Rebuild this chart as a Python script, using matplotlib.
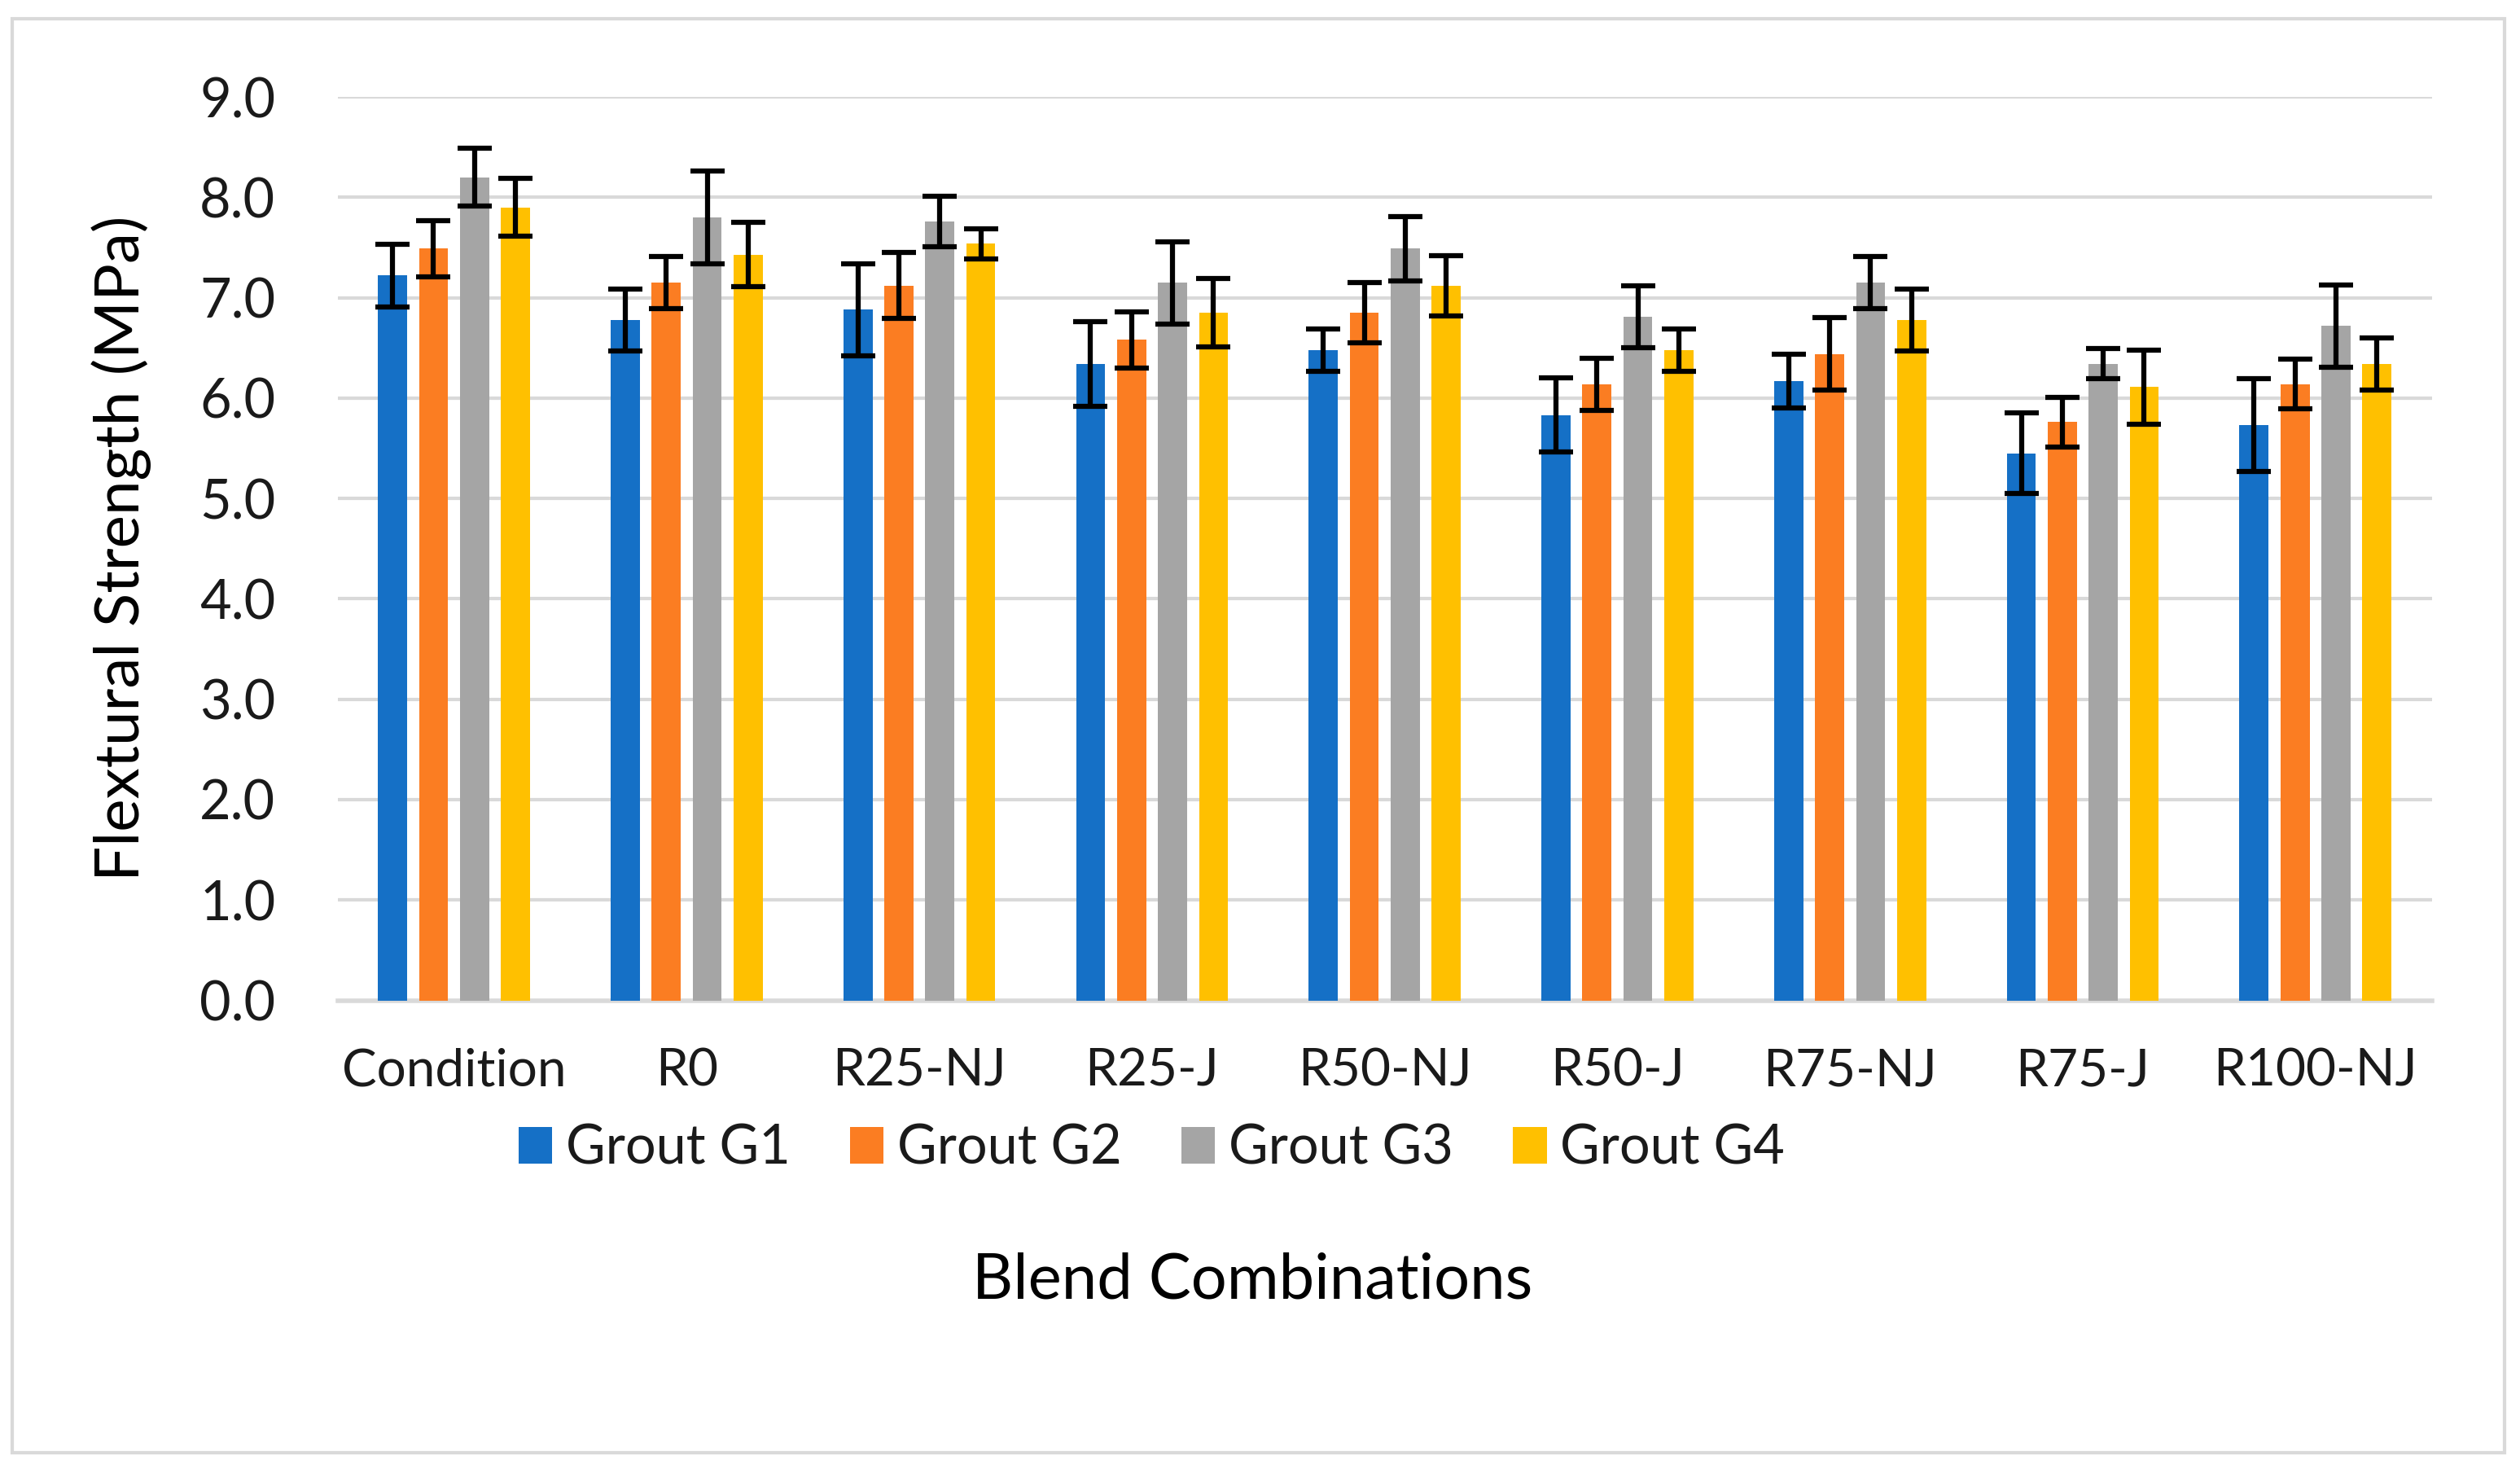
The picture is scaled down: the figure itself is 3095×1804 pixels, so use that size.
import numpy as np
import matplotlib
matplotlib.use("Agg")
import matplotlib.pyplot as plt
from matplotlib.patches import Rectangle

categories = ["Condition", "R0", "R25-NJ", "R25-J", "R50-NJ", "R50-J", "R75-NJ", "R75-J", "R100-NJ"]
series_names = ["Grout G1", "Grout G2", "Grout G3", "Grout G4"]

g1 = [7.22, 6.78, 6.88, 6.34, 6.48, 5.83, 6.17, 5.45, 5.73]
g2 = [7.49, 7.15, 7.12, 6.58, 6.85, 6.14, 6.44, 5.76, 6.14]
g3 = [8.20, 7.80, 7.76, 7.15, 7.49, 6.81, 7.15, 6.34, 6.72]
g4 = [7.90, 7.43, 7.54, 6.85, 7.12, 6.48, 6.78, 6.11, 6.34]

g1_err = [0.31, 0.31, 0.46, 0.42, 0.21, 0.37, 0.27, 0.40, 0.46]
g2_err = [0.28, 0.26, 0.33, 0.28, 0.30, 0.26, 0.36, 0.25, 0.25]
g3_err = [0.29, 0.46, 0.25, 0.41, 0.32, 0.31, 0.26, 0.15, 0.41]
g4_err = [0.29, 0.32, 0.15, 0.34, 0.30, 0.21, 0.31, 0.37, 0.26]

colors = ["#1570C6", "#FB7D22", "#A5A5A5", "#FFC000"]

plt.rcParams["font.family"] = ["Lato", "DejaVu Sans"]

fig = plt.figure(figsize=(30.95, 18.04), dpi=100)
ax = fig.add_axes([0.134, 0.319, 0.831, 0.615])

x = np.arange(len(categories))
step = 0.176
width = 0.125
values = [g1, g2, g3, g4]
errors = [g1_err, g2_err, g3_err, g4_err]

for i, (vals, errs) in enumerate(zip(values, errors)):
    ax.bar(x + (i - 1.5) * step, vals, width, color=colors[i], label=series_names[i],
           yerr=errs, error_kw=dict(ecolor="black", elinewidth=4.5, capsize=15, capthick=4.5),
           zorder=3)

ax.set_ylim(0, 9)
ax.set_xlim(-0.5, len(categories) - 0.5)
ax.set_yticks(np.arange(0, 9.5, 1.0))
ax.set_yticklabels([f"{v:.1f}" for v in np.arange(0, 9.5, 1.0)])
ax.set_xticks(x)
ax.set_xticklabels(categories)
ax.tick_params(axis="both", length=0, colors="#1a1a1a")
ax.tick_params(axis="x", pad=42, labelsize=46)
ax.tick_params(axis="y", pad=55, labelsize=48)

ax.yaxis.grid(True, color="#d9d9d9", linewidth=3, zorder=0)
ax.set_axisbelow(True)
for side in ["top", "right", "left"]:
    ax.spines[side].set_visible(False)
ax.spines["bottom"].set_color("#d9d9d9")
ax.spines["bottom"].set_linewidth(4)

ax.set_ylabel("Flextural Strength (MPa)", fontsize=55, color="#000000")
ax.yaxis.set_label_coords(-0.089, 0.5)
fig.text(0.497, 0.128, "Blend Combinations", fontsize=56, ha="center", va="center")

fig.legend(loc="center", bbox_to_anchor=(0.457, 0.218), ncol=4, frameon=False,
           fontsize=48, handlelength=0.62, handleheight=0.65, handletextpad=0.25,
           columnspacing=1.1, labelcolor="#1a1a1a")

fig.patches.append(Rectangle((0.005, 0.011), 0.989, 0.976, transform=fig.transFigure,
                             fill=False, edgecolor="#d9d9d9", linewidth=3))

fig.savefig("out.png", dpi=100)
